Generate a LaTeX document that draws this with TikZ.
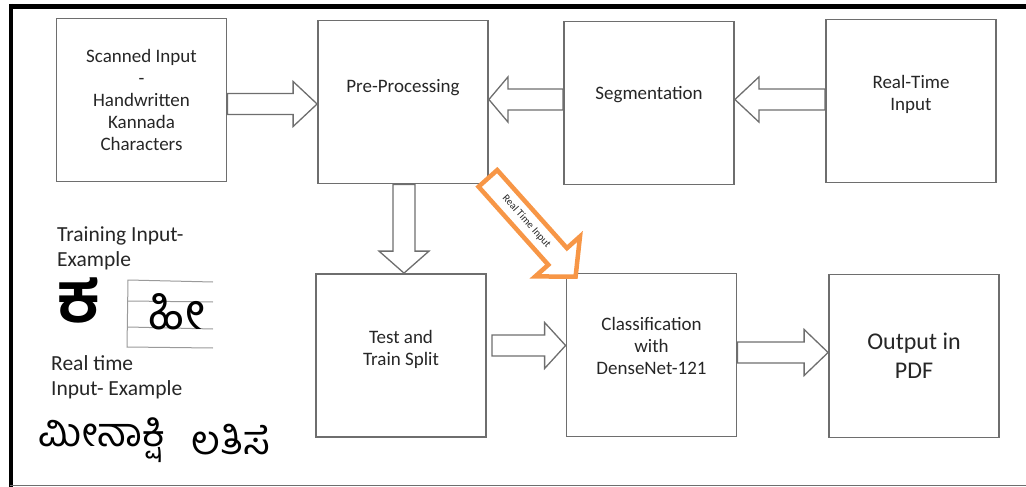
\documentclass[tikz,border=0pt]{standalone}
\usepackage{fontspec}
\setmainfont{Carlito}
\newfontfamily\kannada[Script=Kannada]{Hind Mysuru}
\usepackage{tikz}
\usetikzlibrary{calc}
\definecolor{kbgrey}{HTML}{6E6E6E}
\definecolor{kbtext}{HTML}{262626}
\definecolor{kborange}{HTML}{F79646}

% hollow block arrow: [style]{from}{to}{body half}{head half}{head length}
\newcommand{\blockarrow}[6][]{%
  \coordinate (ba-s) at (#2);
  \coordinate (ba-t) at (#3);
  \coordinate (ba-b) at ($(ba-t)!#6!(ba-s)$);
  \draw[hollow,#1] ($(ba-s)!#4!90:(ba-t)$) -- ($(ba-b)!#4!90:(ba-t)$)
    -- ($(ba-b)!#5!90:(ba-t)$) -- (ba-t) -- ($(ba-b)!#5!-90:(ba-t)$)
    -- ($(ba-b)!#4!-90:(ba-t)$) -- ($(ba-s)!#4!-90:(ba-t)$) -- cycle;}

\begin{document}
\begin{tikzpicture}[x=1pt, y=-1pt, line join=miter,
    box/.style={draw=kbgrey, line width=1.8pt, minimum width=170pt,
                minimum height=163pt, inner sep=0pt},
    boxtxt/.style={align=center, text=kbtext, inner sep=0pt,
                   font=\fontsize{19}{22}\selectfont},
    lefttxt/.style={align=left, anchor=west, text=kbtext, inner sep=0pt,
                    font=\fontsize{21.5}{25}\selectfont},
    hollow/.style={draw=kbgrey, line width=1.3pt, fill=white},
    orangearrow/.style={draw=kborange, line width=4.5pt, fill=white},
    kan/.style={inner sep=0pt, font=\kannada\fontsize{40}{40}\selectfont}]
  \useasboundingbox (0,0) rectangle (1026,487);
  % frame
  \draw[line width=5pt] (10.5,6.5) -- (1026,6.5);
  \draw[line width=4pt] (10.5,4) -- (10.5,487);
  \draw[kbgrey, line width=1.5pt] (10,485.5) -- (1026,485.5);

  % blocks
  \node[box] (scan) at (141.5,100) {};
  \node[box] (pre)  at (403,102)   {};
  \node[box] (seg)  at (649,103)   {};
  \node[box] (rt)   at (911,101)   {};
  \node[box] (test) at (401,355.5) {};
  \node[box] (cls)  at (651.5,355) {};
  \node[box] (out)  at (914,356)   {};

  \node[boxtxt] (scan-txt) at (scan.center)
    {Scanned Input\\-\\Handwritten\\Kannada\\Characters};
  \node[boxtxt] (pre-txt)  at ([yshift=14pt]pre.center) {Pre-Processing};
  \node[boxtxt] (seg-txt)  at ([yshift=8pt]seg.center) {Segmentation};
  \node[boxtxt] (rt-txt)   at ([yshift=7pt]rt.center) {Real-Time\\Input};
  \node[boxtxt] (test-txt) at ([yshift=6pt]test.center) {Test and\\Train Split};
  \node[boxtxt] (cls-txt)  at ([yshift=9pt]cls.center)
    {Classification\\with\\DenseNet-121};
  \node[boxtxt, font=\fontsize{24}{29}\selectfont] (out-txt) at (out.center)
    {Output in\\PDF};

  % block arrows
  \blockarrow{scan.east |- 0,104}{pre.west |- 0,104}{10.5pt}{22.5pt}{24pt}
  \blockarrow{seg.west |- 0,99.5}{pre.east |- 0,99.5}{10.5pt}{22.5pt}{19pt}
  \blockarrow{rt.west |- 0,99.5}{seg.east |- 0,99.5}{10.5pt}{22.5pt}{24pt}
  \blockarrow{pre.south -| 404,0}{test.north -| 404,0}{11pt}{25pt}{22pt}
  \blockarrow{492,345.5}{cls.west |- 0,345.5}{10.5pt}{23pt}{21pt}
  \blockarrow{cls.east |- 0,352.5}{out.west |- 0,352.5}{10.5pt}{23pt}{24pt}

  % real time shortcut
  \coordinate (oa) at ($(pre.south east)+(-1,-6)$);
  \coordinate (ob) at ($(cls.north west)+(10,4)$);
  \blockarrow[orangearrow]{oa}{ob}{12.5pt}{30pt}{27pt}
  \path (oa) -- (ob) node[pos=0.44, sloped, inner sep=0pt, text=kbtext,
    font=\fontsize{10.5}{10.5}\selectfont] (oa-txt) {Real Time Input};

  % examples
  \node[lefttxt] (train-txt) at (57,248.5) {Training Input-\\Example};
  \node[kan, font=\kannada\bfseries\fontsize{70}{70}\selectfont] (train-ka)
    at (79,300) {ಕ};
  \draw[kbgrey!70, line width=1pt] (213,282) -- (128,280) -- (127,347) -- (213,348);
  \draw[kbgrey!70, line width=1pt] (128,301) -- (213,302);
  \draw[kbgrey!70, line width=1pt] (128,327) -- (213,329);
  \node[kan, font=\kannada\fontsize{50}{50}\selectfont] (train-hi)
    at (177,312) {ಹೀ};
  \node[lefttxt] (live-txt) at (51,377.5) {Real time\\Input- Example};
  \node[kan] (live-w1) at (102,440) {ಮೀನಾಕ್ಷಿ};
  \node[kan] (live-w2) at (231,440) {ಲತಿಸೆ};
\end{tikzpicture}
\end{document}
